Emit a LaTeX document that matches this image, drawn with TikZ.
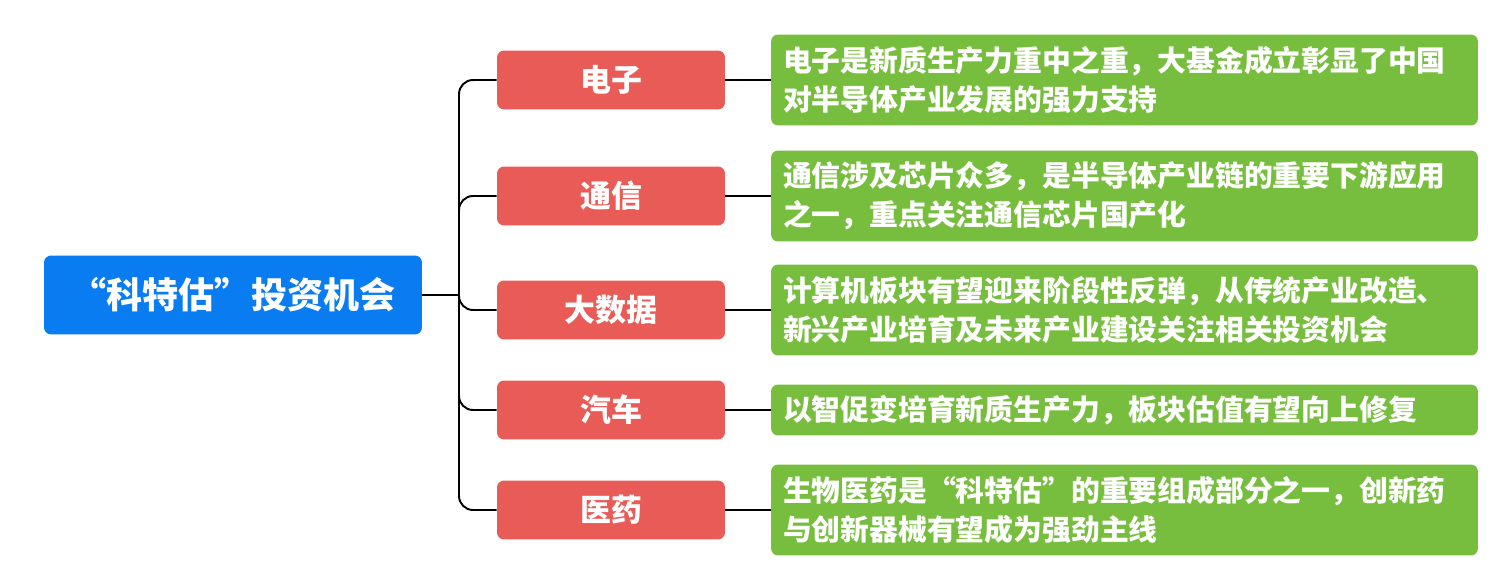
\documentclass[tikz,border=0pt]{standalone}
\usepackage{fontspec}
\newfontfamily\cjk{Noto Sans CJK SC}
\usetikzlibrary{calc}

\definecolor{rootblue}{RGB}{8,124,240}
\definecolor{topicred}{RGB}{232,91,87}
\definecolor{notegreen}{RGB}{120,190,62}

\begin{document}
\begin{tikzpicture}[x=0.02cm, y=0.02cm,
    root/.style={rectangle, rounded corners=4, fill=rootblue, text=white,
      minimum width=7.56cm, minimum height=1.58cm,
      font=\cjk\bfseries\fontsize{20.5pt}{24pt}\selectfont},
    topic/.style={rectangle, rounded corners=4, fill=topicred, text=white,
      minimum width=4.56cm, minimum height=1.18cm,
      font=\cjk\bfseries\fontsize{17.6pt}{20pt}\selectfont},
    note/.style={rectangle, rounded corners=4, fill=notegreen, text=white,
      minimum width=14.14cm, text width=13.66cm, align=left, inner xsep=0.24cm,
      font=\cjk\bfseries\fontsize{16.4pt}{22pt}\selectfont},
    link/.style={draw=black, line width=1.1pt}]
  \useasboundingbox (0, 0) rectangle (1502, 586);
  \node (r) [root] at (233, 291) {“科特估”投资机会};
  \coordinate (j) at (459, 291);

  \node (a) [topic] at (611, 506) {电子};
  \node (b) [topic] at (611, 390) {通信};
  \node (c) [topic] at (611, 276) {大数据};
  \node (d) [topic] at (611, 176) {汽车};
  \node (e) [topic] at (611, 76)  {医药};

  \node (na) [note, minimum height=1.82cm] at (1124.5, 506) {电子是新质生产力重中之重，大基金成立彰显了中国\\对半导体产业发展的强力支持};
  \node (nb) [note, minimum height=1.82cm] at (1124.5, 390) {通信涉及芯片众多，是半导体产业链的重要下游应用\\之一，重点关注通信芯片国产化};
  \node (nc) [note, minimum height=1.82cm] at (1124.5, 276) {计算机板块有望迎来阶段性反弹，从传统产业改造、\\新兴产业培育及未来产业建设关注相关投资机会};
  \node (nd) [note, minimum height=1.02cm] at (1124.5, 176) {以智促变培育新质生产力，板块估值有望向上修复};
  \node (ne) [note, minimum height=1.82cm] at (1124.5, 76)  {生物医药是“科特估”的重要组成部分之一，创新药\\与创新器械有望成为强劲主线};

  % trunk and branches
  \draw[link] (r.east) -- (j);
  \foreach \t in {a, b, c, d, e}
    \draw[link, rounded corners=8] (j) |- (\t.west);
  \foreach \t in {a, b, c, d, e}
    \draw[link] (\t.east) -- (n\t.west);
\end{tikzpicture}
\end{document}
